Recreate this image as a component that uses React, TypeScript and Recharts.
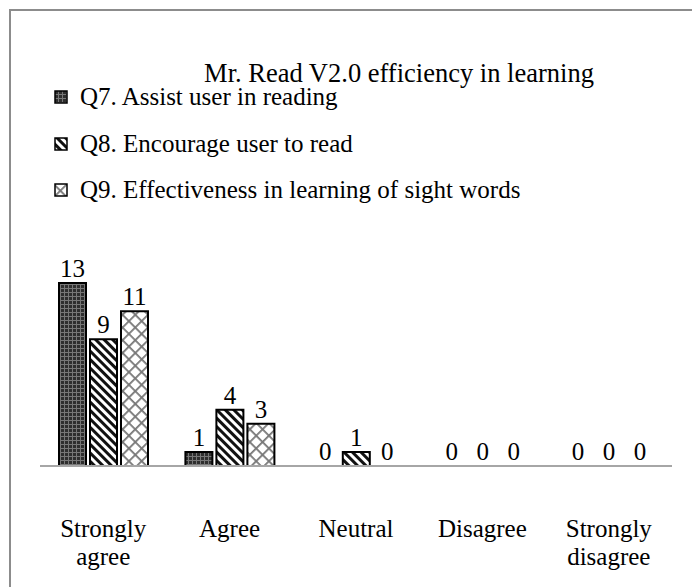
import React from "react";
import { BarChart, Bar, XAxis, YAxis, Legend, LabelList, Cell } from "recharts";

const categories = ["Strongly agree", "Agree", "Neutral", "Disagree", "Strongly disagree"];
const q7 = [13, 1, 0, 0, 0];
const q8 = [9, 4, 1, 0, 0];
const q9 = [11, 3, 0, 0, 0];

const seriesNames = [
  "Q7. Assist user in reading",
  "Q8. Encourage user to read",
  "Q9. Effectiveness in learning of sight words",
];
const seriesKeys = ["q7", "q8", "q9"];
const seriesValues = [q7, q8, q9];
const patternIds = ["pat-q7", "pat-q8", "pat-q9"];

const data = categories.map((name, i) => ({ name, q7: q7[i], q8: q8[i], q9: q9[i] }));

const FONT = "'Liberation Serif', 'Times New Roman', serif";
const FS = 25;

const Patterns = () => (
  <defs>
    <pattern id="pat-q7" patternUnits="userSpaceOnUse" width="4" height="4">
      <rect width="4" height="4" fill="#2e2e2e" />
      <rect x="0" y="0" width="4" height="1" fill="#777" />
      <rect x="0" y="0" width="1" height="4" fill="#777" />
    </pattern>
    <pattern id="pat-q8" patternUnits="userSpaceOnUse" width="6" height="6" patternTransform="rotate(-45)">
      <rect width="6" height="6" fill="#fff" />
      <rect width="3" height="6" fill="#111" />
    </pattern>
    <pattern id="pat-q9" patternUnits="userSpaceOnUse" width="9" height="9" patternTransform="rotate(45)">
      <rect width="9" height="9" fill="#fff" />
      <rect width="9" height="1.8" fill="#777" />
      <rect width="1.8" height="9" fill="#777" />
    </pattern>
  </defs>
);

const renderLegend = () => (
  <div style={{ fontFamily: FONT, fontSize: FS, color: "#000", whiteSpace: "nowrap" }}>
    {seriesNames.map((s, i) => (
      <div key={s} style={{ display: "flex", alignItems: "center", height: 46.5 }}>
        <svg width={14} height={14} style={{ marginRight: 12, flex: "none" }}>
          <rect x={1} y={1} width={12} height={12} fill={`url(#${patternIds[i]})`} stroke="#000" strokeWidth={1.5} />
        </svg>
        <span>{s}</span>
      </div>
    ))}
  </div>
);

const CategoryTick = (props: any) => {
  const { x, y, payload } = props;
  const words = String(payload.value).split(" ");
  return (
    <text x={x} y={y} textAnchor="middle" fontFamily={FONT} fontSize={FS} fill="#000">
      {words.map((w: string, i: number) => (
        <tspan key={i} x={x} dy={i === 0 ? 71 : 28}>
          {w}
        </tspan>
      ))}
    </text>
  );
};

const renderValue = (p: any) => (
  <text
    x={Number(p.x) + Number(p.width) / 2}
    y={Number(p.y) - 6}
    textAnchor="middle"
    fontFamily={FONT}
    fontSize={FS}
    fill="#000"
  >
    {String(p.value)}
  </text>
);

// keep zero-value bars in the layout (invisible sliver) so their "0" labels are drawn
const zeroSliver = (v: any) => (Number(v) === 0 ? 0.5 : 0);

export default function App() {
  return (
    <div style={{ position: "relative", width: 692, height: 579 }}>
      <div
        style={{
          position: "absolute",
          left: 1,
          top: 1,
          width: 800,
          height: 700,
          borderLeft: "2px solid #8c8c8c",
          borderTop: "2px solid #8c8c8c",
          boxSizing: "border-box",
        }}
      />
      <div
        style={{
          position: "absolute",
          left: 391 - 250,
          width: 500,
          top: 50,
          textAlign: "center",
          fontFamily: FONT,
          fontSize: 26.5,
          color: "#000",
        }}
      >
        Mr. Read V2.0 efficiency in learning
      </div>
      <BarChart
        width={692}
        height={579}
        data={data}
        margin={{ top: 275, right: 28, left: 32, bottom: 91 }}
        barSize={27}
        barGap={4}
        style={{ position: "absolute", left: 0, top: 0 }}
      >
        <Patterns />
        <XAxis
          dataKey="name"
          height={30}
          tickLine={false}
          tickSize={0}
          tickMargin={0}
          interval={0}
          axisLine={{ stroke: "#a6a6a6", strokeWidth: 2 }}
          tick={<CategoryTick />}
        />
        <YAxis hide domain={[0, 13]} />
        <Legend
          layout="vertical"
          align="center"
          verticalAlign="middle"
          wrapperStyle={{ left: 46, top: 66, width: "auto" }}
          content={renderLegend}
        />
        {seriesKeys.map((k, si) => (
          <Bar
            key={k}
            dataKey={k}
            name={seriesNames[si]}
            fill={`url(#${patternIds[si]})`}
            stroke="#000"
            strokeWidth={2}
            minPointSize={zeroSliver}
            isAnimationActive={false}
          >
            {seriesValues[si].map((v, i) => (
              <Cell key={i} stroke={v === 0 ? "none" : "#000"} fill={v === 0 ? "none" : `url(#${patternIds[si]})`} />
            ))}
            <LabelList dataKey={k} content={renderValue} />
          </Bar>
        ))}
      </BarChart>
    </div>
  );
}
